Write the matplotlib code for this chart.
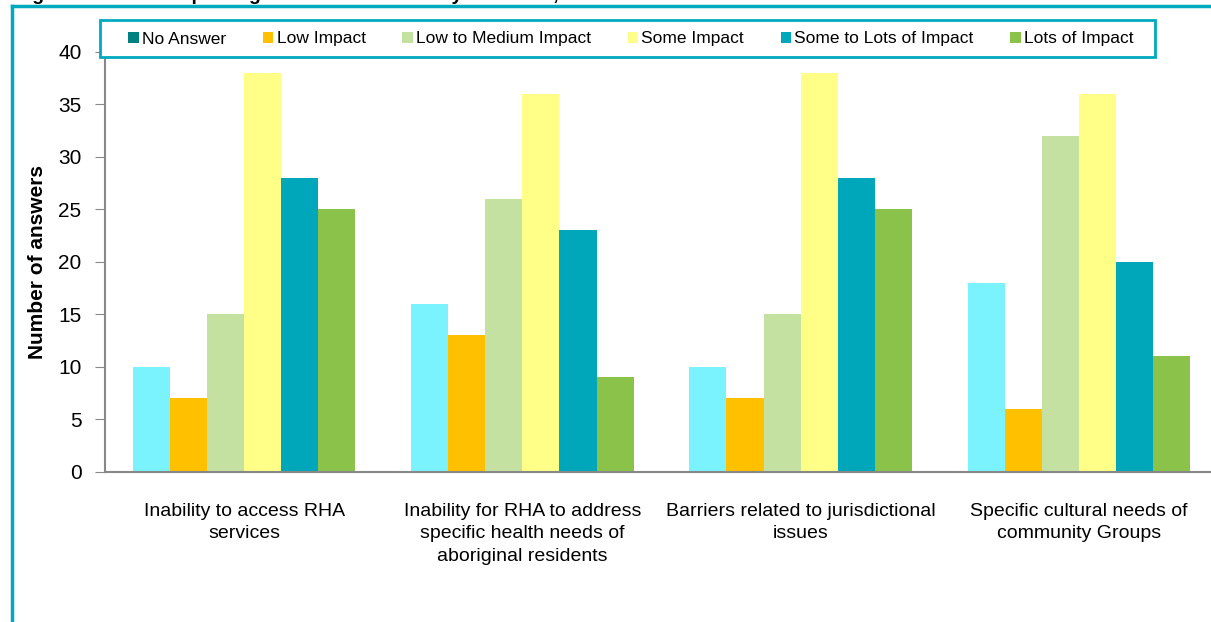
import matplotlib.pyplot as plt
import numpy as np
from matplotlib.lines import Line2D
from matplotlib.patches import Patch, Rectangle

plt.rcParams['font.family'] = ['Liberation Sans', 'DejaVu Sans']

categories = ['Inability to access RHA\nservices',
              'Inability for RHA to address\nspecific health needs of\naboriginal residents',
              'Barriers related to jurisdictional\nissues',
              'Specific cultural needs of\ncommunity Groups']
series = ['No Answer', 'Low Impact', 'Low to Medium Impact', 'Some Impact',
          'Some to Lots of Impact', 'Lots of Impact']
no_answer = [10, 16, 10, 18]
low = [7, 13, 7, 6]
low_medium = [15, 26, 15, 32]
some = [38, 36, 38, 36]
some_lots = [28, 23, 28, 20]
lots = [25, 9, 25, 11]

bar_colors = ['#7AF3FF', '#FFC000', '#C4E1A2', '#FFFF88', '#00A6B9', '#8BC34A']
legend_colors = ['#00817F', '#FFC000', '#C4E1A2', '#FFFF88', '#00A6B9', '#8BC34A']
teal = '#00A9BD'

fig = plt.figure(figsize=(12.11, 6.22), dpi=100)
ax = fig.add_axes([0.0867, 0.2412, 0.9191, 0.6752])

values = [no_answer, low, low_medium, some, some_lots, lots]
x = np.arange(len(categories))
w = 0.8 / 6
for i, vals in enumerate(values):
    ax.bar(x - 0.4 + w * (i + 0.5), vals, w, color=bar_colors[i], linewidth=0)

ax.set_xlim(-0.5, len(categories) - 0.5)
ax.set_ylim(0, 40)
ax.set_yticks(range(0, 41, 5))
ax.tick_params(axis='y', labelsize=15, direction='out', length=7, color='#888888', pad=10)
ax.tick_params(axis='x', length=0, labelsize=14, pad=22)
ax.set_xticks(x)
ax.set_xticklabels(categories, ha='center', linespacing=1.45)
for s in ['top', 'right']:
    ax.spines[s].set_visible(False)
for s in ['left', 'bottom']:
    ax.spines[s].set_color('#888888')
    ax.spines[s].set_linewidth(1.5)
ax.set_ylabel('Number of answers', fontsize=15, fontweight='bold', labelpad=8)

# legend box
fig.add_artist(Rectangle((100 / 1211, 1 - 57 / 622), 1055 / 1211, 37 / 622,
                         transform=fig.transFigure, facecolor='white', edgecolor=teal,
                         linewidth=2, zorder=2))
handles = [Patch(facecolor=c, edgecolor='none') for c in legend_colors]
leg = fig.legend(handles, series, loc='center', ncol=6, frameon=False,
                 bbox_to_anchor=(631 / 1211, 1 - 39 / 622), fontsize=12.5,
                 handlelength=0.6, handleheight=0.6, handletextpad=0.2,
                 columnspacing=2.1, borderaxespad=0)
leg.set_zorder(3)

# outer frame (cropped at right and bottom)
fig.add_artist(Line2D([12 / 1211, 12 / 1211], [0, 1 - 6 / 622], color=teal, lw=2.5,
                      transform=fig.transFigure))
fig.add_artist(Line2D([12 / 1211, 1], [1 - 6 / 622, 1 - 6 / 622], color=teal, lw=2.5,
                      transform=fig.transFigure))

# title mostly cut off by the top edge
fig.text(15 / 1211, 1 + 0.5 / 622, 'Figure 5: Issues Impacting Health of Community Members, 2009',
         fontsize=14, fontweight='bold', va='baseline', ha='left')

fig.savefig('out.png', dpi=100)
